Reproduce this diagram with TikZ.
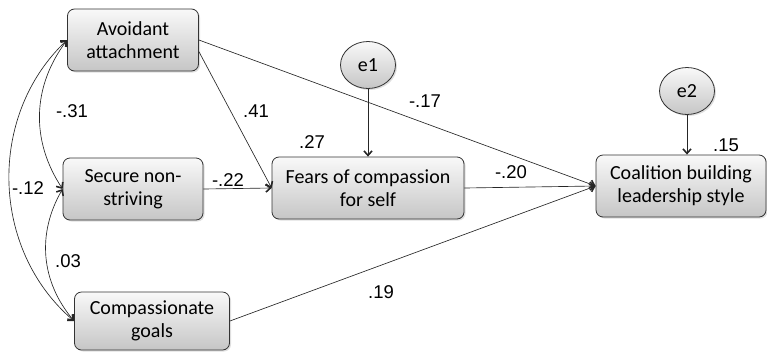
\documentclass[tikz,border=0pt]{standalone}
\usepackage{fontspec}
\setmainfont{Carlito}
\newfontfamily\numfont{Liberation Sans}
\usetikzlibrary{positioning, shadows, arrows.meta, shapes.geometric}

\tikzset{
  var/.style={rectangle, rounded corners=7pt, draw=black!80, line width=0.8pt,
              top color=gray!5, bottom color=gray!45,
              drop shadow={shadow xshift=1.5pt, shadow yshift=-1.5pt, opacity=0.25},
              align=center, inner sep=2pt, minimum height=62pt,
              font=\fontsize{20}{23}\selectfont},
  err/.style={ellipse, draw=black!80, line width=0.8pt,
              top color=gray!5, bottom color=gray!45,
              drop shadow={shadow xshift=1.5pt, shadow yshift=-1.5pt, opacity=0.25},
              minimum width=55pt, minimum height=47pt, inner sep=0pt,
              font=\fontsize{20}{23}\selectfont},
  coef/.style={font=\numfont\fontsize{18.5}{20}\selectfont, inner sep=0pt},
  tip/.style={Straight Barb[length=4.5pt,width=8pt,line width=1.6pt]},
  link/.style={-{Straight Barb[length=4.5pt,width=8pt,line width=1.6pt]},
               draw=black!85, line width=0.65pt},
  covar/.style={{Straight Barb[length=4.5pt,width=8pt,line width=1.6pt]}-{Straight Barb[length=4.5pt,width=8pt,line width=1.6pt]},
                draw=black!85, line width=0.65pt}
}

\begin{document}
\begin{tikzpicture}[x=1pt, y=-1pt]
        \useasboundingbox (0,0) rectangle (767,354);
        % variables
        \node[var, minimum width=131pt] (avoid) at (133,40) {Avoidant\\attachment};
        \node[var, minimum width=140pt] (secure) at (133,189) {Secure non-\\striving};
        \node[var, minimum width=155pt, minimum height=58pt] (goals) at (152,321) {Compassionate\\goals};
        \node[var, minimum width=192pt] (fears) at (368,188) {Fears of compassion\\for self};
        \node[var, minimum width=170pt] (lead) at (681,186) {Coalition building\\leadership style};
        % error terms
        \node[err] (e1) at (368,65) {e1};
        \node[err] (e2) at (687,91) {e2};
        % paths
        \draw[link] (avoid.east) -- (lead.west);
        \draw[link] (avoid.-10) -- (fears.west);
        \draw[link] (secure.east) -- (fears.west);
        \draw[link] (fears.east) -- (lead.west);
        \draw[link] (goals.east) -- (lead.west);
        \draw[link] (e1.south) -- (fears.north);
        \draw[link] (e2.south) -- (e2 |- lead.north);
        % covariances
        \draw[covar] (avoid.west) to[bend right=35] (secure.west);
        \draw[covar] (secure.west) to[bend right=35] (goals.west);
        \draw[covar] (avoid.west) to[bend right=48] (goals.west);
        % coefficients
        \node[coef] (c31) at (72,111) {-.31};
        \node[coef] (c12) at (28,188) {-.12};
        \node[coef] (c03) at (68,261) {.03};
        \node[coef] (c41) at (256,111) {.41};
        \node[coef] (c22) at (228,180) {-.22};
        \node[coef] (c27) at (312,142) {.27};
        \node[coef] (c17) at (425,101) {-.17};
        \node[coef] (c20) at (511,172) {-.20};
        \node[coef] (c15) at (726,145) {.15};
        \node[coef] (c19) at (381,292) {.19};
\end{tikzpicture}
\end{document}
